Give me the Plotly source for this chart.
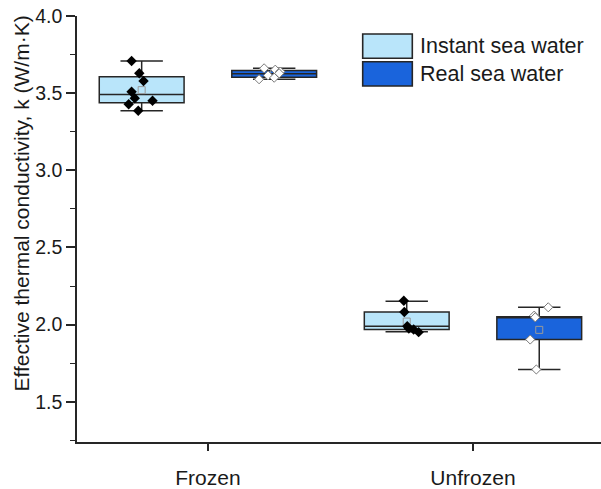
import numpy as np
import plotly.graph_objects as go

# ---------------- data ----------------
categories = ["Frozen", "Unfrozen"]
series_names = ["Instant sea water", "Real sea water"]
y_title = "Effective thermal conductivity, k (W/m·K)"

# raw sample points (W/m·K)
instant_frozen = [3.708, 3.629, 3.579, 3.509, 3.467, 3.451, 3.428, 3.386]
instant_unfrozen = [2.154, 2.082, 1.989, 1.974, 1.968, 1.951]
real_frozen = [3.661, 3.652, 3.640, 3.628, 3.615, 3.600, 3.590]
real_unfrozen = [2.112, 2.058, 2.047, 1.903, 1.709]

# horizontal scatter of the points inside each box (x-axis units)
jitter_instant_frozen = [-0.038, -0.009, 0.007, -0.038, -0.026, 0.041, -0.049, -0.013]
jitter_instant_unfrozen = [-0.011, -0.009, 0.002, 0.008, 0.026, 0.045]
jitter_real_frozen = [-0.038, 0.004, 0.023, 0.019, -0.023, 0.0, -0.057]
jitter_real_unfrozen = [0.034, -0.019, -0.015, -0.034, -0.011]

# box statistics as drawn (Frozen, Unfrozen)
instant_lower = [3.386, 1.953]
instant_q1 = [3.438, 1.968]
instant_median = [3.492, 1.989]
instant_q3 = [3.606, 2.082]
instant_upper = [3.708, 2.151]

real_lower = [3.590, 1.709]
real_q1 = [3.603, 1.903]
real_median = [3.625, 2.047]
real_q3 = [3.646, 2.050]
real_upper = [3.661, 2.112]

# ---------------- layout constants ----------------
cat_pos = [1, 2]
offset = 0.25
FONT = "Liberation Sans, Arial, sans-serif"
LIGHT = "#B9E5FA"
DARK = "#1A64DC"
LINE = "#262626"
TXT = "#1a1a1a"

W, H = 601, 489
ML, MR, MT, MB = 77, 0, 16, 47

fig = go.Figure()

def add_series(pos, lower, q1, med, q3, upper, fill):
    fig.add_trace(go.Box(
        x=pos, lowerfence=lower, q1=q1, median=med, q3=q3, upperfence=upper,
        width=0.32, whiskerwidth=0.5, fillcolor=fill,
        line=dict(color=LINE, width=1.5), boxpoints=False,
        showlegend=False, hoverinfo="skip"))

pos_instant = [p - offset for p in cat_pos]
pos_real = [p + offset for p in cat_pos]
add_series(pos_instant, instant_lower, instant_q1, instant_median, instant_q3, instant_upper, LIGHT)
add_series(pos_real, real_lower, real_q1, real_median, real_q3, real_upper, DARK)

groups = [
    (pos_instant[0], instant_frozen, jitter_instant_frozen, "instant"),
    (pos_instant[1], instant_unfrozen, jitter_instant_unfrozen, "instant"),
    (pos_real[0], real_frozen, jitter_real_frozen, "real"),
    (pos_real[1], real_unfrozen, jitter_real_unfrozen, "real"),
]

# mean markers
for p, vals, jit, kind in groups:
    fig.add_trace(go.Scatter(
        x=[p], y=[float(np.mean(vals))], mode="markers",
        marker=dict(symbol="square-open", size=7, color="#9A9A9A", line=dict(width=1)),
        showlegend=False, hoverinfo="skip"))

# sample points
for p, vals, jit, kind in groups:
    if kind == "instant":
        mk = dict(symbol="diamond", size=8, color="black", line=dict(color="black", width=0))
    else:
        mk = dict(symbol="diamond", size=7, color="white", line=dict(color="#7A7A7A", width=1))
    fig.add_trace(go.Scatter(
        x=[p + j for j in jit], y=vals, mode="markers", marker=mk,
        showlegend=False, hoverinfo="skip"))

# manual legend (pixel placement converted to paper coordinates)
pw = W - ML - MR
ph = H - MT - MB
def px_x(x):
    return (x - ML) / pw
def px_y(y):
    return (H - MB - y) / ph

legend_rows = [(34, 58.3, LIGHT, series_names[0]), (61.7, 86, DARK, series_names[1])]
for y0, y1, col, name in legend_rows:
    fig.add_shape(type="rect", xref="paper", yref="paper",
                  x0=px_x(362.7), x1=px_x(412.3), y0=px_y(y1), y1=px_y(y0),
                  fillcolor=col, line=dict(color=LINE, width=1.6))
    fig.add_annotation(xref="paper", yref="paper", x=px_x(418), y=px_y((y0 + y1) / 2),
                       text=name, showarrow=False, xanchor="left", yanchor="middle",
                       font=dict(family=FONT, size=21.5, color=TXT))

# y-axis title as a rotated annotation (reference centres it above the plot middle)
fig.add_annotation(xref="paper", yref="paper", x=px_x(21), y=px_y(203.5),
                   text=y_title, textangle=-90, showarrow=False,
                   xanchor="center", yanchor="middle",
                   font=dict(family=FONT, size=21, color=TXT))

fig.update_layout(
    width=W, height=H,
    margin=dict(l=ML, r=MR, t=MT, b=MB, pad=0),
    paper_bgcolor="white", plot_bgcolor="white",
    boxmode="overlay",
    font=dict(family=FONT, color=TXT),
    xaxis=dict(
        range=[0.506, 2.483], tickvals=cat_pos, ticktext=categories,
        showline=True, linecolor=LINE, linewidth=1.6,
        ticks="outside", ticklen=7, tickwidth=1.5, tickcolor=LINE,
        ticklabelstandoff=9,
        showgrid=False, zeroline=False,
        tickfont=dict(family=FONT, size=21, color=TXT),
    ),
    yaxis=dict(
        range=[1.239, 4.0], tickvals=[1.5, 2.0, 2.5, 3.0, 3.5, 4.0],
        ticktext=["1.5", "2.0", "2.5", "3.0", "3.5", "4.0"],
        showline=True, linecolor=LINE, linewidth=1.6,
        ticks="outside", ticklen=9, tickwidth=1.5, tickcolor=LINE,
        minor=dict(ticks="outside", ticklen=5, tickwidth=1.2, tickcolor=LINE, dtick=0.25, tick0=0),
        showgrid=False, zeroline=False,
        tickfont=dict(family=FONT, size=19.5, color=TXT),
    ),
)

fig.write_html("out.html")
